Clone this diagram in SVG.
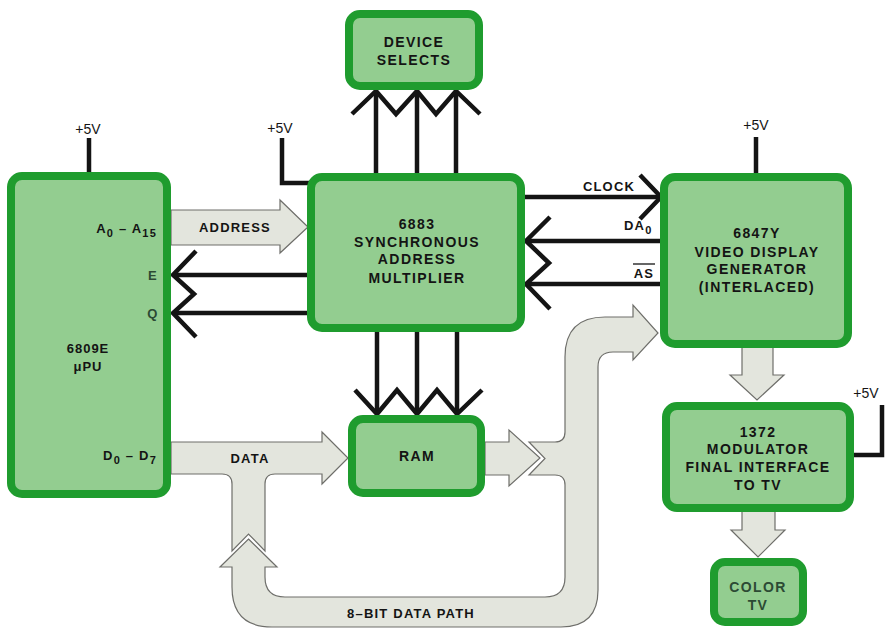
<svg xmlns="http://www.w3.org/2000/svg" width="888" height="628" viewBox="0 0 888 628">
<style>
.box{fill:#93cd90;stroke:#1f9c2e;stroke-width:8}
.bus{fill:#e3e5dd;stroke:#6e6e6a;stroke-width:1.2;stroke-linejoin:miter}
.w{fill:none;stroke:#141414;stroke-width:4.5;stroke-linejoin:miter;stroke-linecap:butt}
.t{font-family:"Liberation Sans",Arial,sans-serif;font-weight:bold;font-size:14px;fill:#141414;text-anchor:middle;letter-spacing:1.4px}
.s{font-family:"Liberation Sans",Arial,sans-serif;font-weight:bold;font-size:13px;fill:#141414;letter-spacing:1.2px}
.v{font-family:"Liberation Sans",Arial,sans-serif;font-size:14px;fill:#141414;text-anchor:middle}
</style>
<rect width="888" height="628" fill="#ffffff"/>
<g id="buses">
<path class="bus" d="M171,210 H280 V200 L308,227 L280,253 V245 H171 Z"/>
<path class="bus" d="M171,442 H322 V432 L348,458 L322,484 V474 H275 Q265,474 265,484 V551 L248.5,534 L232,551 V484 Q232,474 222,474 H171 Z"/>
<path class="bus" d="M485,442 H509 V430 L540,458 L509,486 V475 H485 Z"/>
<path class="bus" d="M248.5,539 L277,567 H265 V577 Q265,597 285,597 H545 Q565,597 565,577 V485 Q565,475 555,475 H529 L545,458.5 L529,442 H555 Q565,442 565,432 V357 Q565,317 605,317 H633 V305 L658,333 L633,360 V352 H613 Q598,352 598,367 V590 Q598,627 561,627 H272 Q232,627 232,587 V567 H220 Z"/>
<path class="bus" d="M742,346 V375 H730 L757,400 L784,375 H773 V346 Z"/>
<path class="bus" d="M742,510 V530 H731 L758,557 L785,530 H775 V510 Z"/>
</g>
<g id="connectors">
<line class="w" x1="89" y1="138" x2="89" y2="174"/>
<polyline class="w" points="282,138 282,183 309,183"/>
<line class="w" x1="756" y1="137" x2="756" y2="175"/>
<polyline class="w" points="882,405 882,455 852,455"/>
<line class="w" x1="376" y1="175" x2="376" y2="92"/>
<line class="w" x1="417" y1="175" x2="417" y2="92"/>
<line class="w" x1="456" y1="175" x2="456" y2="92"/>
<polyline class="w" points="352,114 376,91 396,114 417,91 436,114 456,91 480,114"/>
<line class="w" x1="377" y1="330" x2="377" y2="413"/>
<line class="w" x1="417" y1="330" x2="417" y2="413"/>
<line class="w" x1="457" y1="330" x2="457" y2="413"/>
<polyline class="w" points="355,390 377,414 397,390 417,414 437,390 457,414 482,390"/>
<line class="w" x1="309" y1="275" x2="174" y2="275"/>
<line class="w" x1="309" y1="313" x2="174" y2="313"/>
<polyline class="w" points="196,251 173,275 194,294 173,313 196,337"/>
<line class="w" x1="523" y1="197" x2="659" y2="197"/>
<polyline class="w" points="640,175 661,197 640,219"/>
<line class="w" x1="662" y1="241" x2="527" y2="241"/>
<line class="w" x1="662" y1="284" x2="527" y2="284"/>
<polyline class="w" points="550,217 526,241 549,263 526,284 550,309"/>
</g>
<g id="n6809e">
<rect class="box" x="11" y="176" width="156" height="318" rx="11"/>
<text class="s" x="157" y="233" text-anchor="end">A<tspan font-size="11" dy="4">0</tspan><tspan dy="-4"> – A</tspan><tspan font-size="11" dy="4">15</tspan></text>
<text class="s" x="153" y="280" text-anchor="middle" style="fill:#2c4a34">E</text>
<text class="s" x="153" y="318" text-anchor="middle" style="fill:#2c4a34">Q</text>
<text class="t" x="88" y="353" style="font-size:13px;letter-spacing:1px">6809E</text>
<text class="t" x="88" y="371" style="font-size:13px;letter-spacing:1px">μPU</text>
<text class="s" x="157" y="460" text-anchor="end">D<tspan font-size="11" dy="4">0</tspan><tspan dy="-4"> – D</tspan><tspan font-size="11" dy="4">7</tspan></text>
</g>
<g id="devsel">
<rect class="box" x="349" y="14" width="130" height="72" rx="11"/>
<text class="t" x="414" y="47">DEVICE</text>
<text class="t" x="414" y="65">SELECTS</text>
</g>
<g id="n6883">
<rect class="box" x="311" y="177" width="210" height="151" rx="11"/>
<text class="t" x="417" y="229">6883</text>
<text class="t" x="417" y="247">SYNCHRONOUS</text>
<text class="t" x="417" y="264">ADDRESS</text>
<text class="t" x="417" y="283">MULTIPLIER</text>
</g>
<g id="ram">
<rect class="box" x="352" y="419" width="129" height="74" rx="11"/>
<text class="t" x="417" y="461">RAM</text>
</g>
<g id="n6847y">
<rect class="box" x="664" y="177" width="184" height="167" rx="11"/>
<text class="t" x="757" y="238">6847Y</text>
<text class="t" x="757" y="257">VIDEO DISPLAY</text>
<text class="t" x="757" y="274">GENERATOR</text>
<text class="t" x="757" y="292">(INTERLACED)</text>
</g>
<g id="n1372">
<rect class="box" x="666" y="406" width="184" height="102" rx="11"/>
<text class="t" x="758" y="437">1372</text>
<text class="t" x="758" y="454">MODULATOR</text>
<text class="t" x="758" y="472">FINAL INTERFACE</text>
<text class="t" x="758" y="490">TO TV</text>
</g>
<g id="colortv">
<rect class="box" x="714" y="562" width="89" height="60" rx="11"/>
<text class="t" x="758" y="592" style="fill:#2c4a34">COLOR</text>
<text class="t" x="758" y="610" style="fill:#2c4a34">TV</text>
</g>
<g id="labels">
<text class="v" x="88" y="134">+5V</text>
<text class="v" x="280" y="133">+5V</text>
<text class="v" x="756" y="130">+5V</text>
<text class="v" x="866" y="398" text-anchor="start">+5V</text>
<text class="s" x="235" y="232" text-anchor="middle">ADDRESS</text>
<text class="s" x="250" y="463" text-anchor="middle">DATA</text>
<text class="s" x="411" y="618" text-anchor="middle">8–BIT DATA PATH</text>
<text class="s" x="609" y="191" text-anchor="middle">CLOCK</text>
<text class="s" x="624" y="230">DA<tspan font-size="11" dy="4">0</tspan></text>
<text class="s" x="644" y="278" text-anchor="middle">AS</text>
<line x1="633" y1="264" x2="655" y2="264" stroke="#141414" stroke-width="1.3"/>
</g>
</svg>
